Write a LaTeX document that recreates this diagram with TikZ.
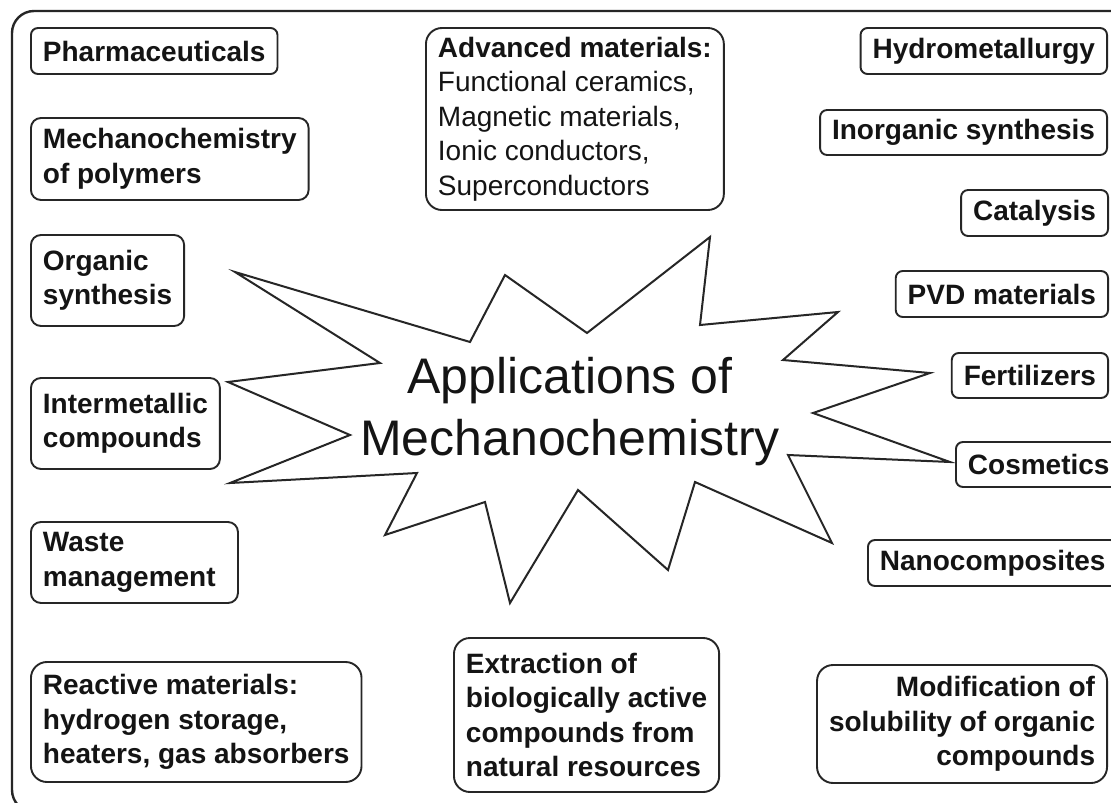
\documentclass[tikz,border=0pt]{standalone}
\usepackage{fontspec}
\setmainfont{Liberation Sans}
\definecolor{linecol}{RGB}{38,38,38}
\definecolor{txtcol}{RGB}{20,20,20}
\begin{document}
\begin{tikzpicture}[x=1pt,y=-1pt,
  box/.style={draw=linecol, line width=1.9pt, rounded corners=7pt, inner xsep=12pt, inner ysep=0pt,
    text=txtcol, font=\fontsize{28}{34.5}\selectfont\bfseries},
  bigbox/.style={box, rounded corners=16pt},
  starline/.style={draw=linecol, line width=2pt, line join=miter},
  frameline/.style={draw=linecol, line width=2.4pt, rounded corners=22pt}]
\useasboundingbox (0,0) rectangle (1111,803);
\clip (0,0) rectangle (1111,803);
\fill[white] (0,0) rectangle (1111,803);
% outer frame
\draw[frameline] (12,11) rectangle (1140,812);
% star
\draw[starline] (235,272) -- (470,342) -- (505,275) -- (587,333) -- (710,237) -- (700,325)
  -- (838,312) -- (783,360) -- (930,373) -- (813,413) -- (950,462) -- (788,455)
  -- (832,543) -- (695,482) -- (668,570) -- (578,490) -- (510,603) -- (485,502)
  -- (385,535) -- (417,473) -- (230,483) -- (350,435) -- (228,382) -- (380,363) -- cycle;
\node[text=txtcol, font=\fontsize{50}{62}\selectfont, align=center, inner sep=0pt] (title) at (570,412)
  {Applications of\\Mechanochemistry};
% left column
\node[box, anchor=west, minimum height=46pt] (pharma) at (30,51) {Pharmaceuticals};
\node[box, rounded corners=10pt, anchor=west, minimum height=82pt, align=left] (polymers) at (30,159) {Mechanochemistry\\of polymers};
\node[box, rounded corners=10pt, anchor=west, minimum height=91pt, align=left] (organic) at (30,280.5) {Organic\\synthesis};
\node[box, rounded corners=10pt, anchor=west, minimum height=91pt, align=left] (intermet) at (30,423.5) {Intermetallic\\compounds};
\node[box, rounded corners=10pt, anchor=west, minimum height=81pt, align=left, text width=183pt] (waste) at (30,562.5) {Waste\\management};
\node[bigbox, anchor=west, minimum height=120pt, align=left] (reactive) at (30,722) {Reactive materials:\\hydrogen storage,\\heaters, gas absorbers};
% middle
\node[bigbox, anchor=west, minimum height=182pt, align=left] (advanced) at (425,119)
  {Advanced materials:\\\mdseries Functional ceramics,\\\mdseries Magnetic materials,\\\mdseries Ionic conductors,\\\mdseries Superconductors};
\node[bigbox, anchor=west, minimum height=154pt, align=left] (extraction) at (453,715)
  {Extraction of\\biologically active\\compounds from\\natural resources};
% right column
\node[box, anchor=east, minimum height=46pt] (hydro) at (1108,51) {Hydrometallurgy};
\node[box, anchor=east, minimum height=45pt] (inorganic) at (1108,132.5) {Inorganic synthesis};
\node[box, anchor=east, minimum height=46pt] (catalysis) at (1109,213) {Catalysis};
\node[box, anchor=east, minimum height=46pt] (pvd) at (1109,294) {PVD materials};
\node[box, anchor=east, minimum height=45pt] (fert) at (1109,375.5) {Fertilizers};
\node[box, anchor=west, minimum height=45pt] (cosm) at (955,464.5) {Cosmetics};
\node[box, anchor=west, minimum height=46pt] (nano) at (867,563) {Nanocomposites};
\node[bigbox, anchor=east, minimum height=118pt, align=right] (modif) at (1108,724)
  {Modification of\\solubility of organic\\compounds};
\end{tikzpicture}
\end{document}
